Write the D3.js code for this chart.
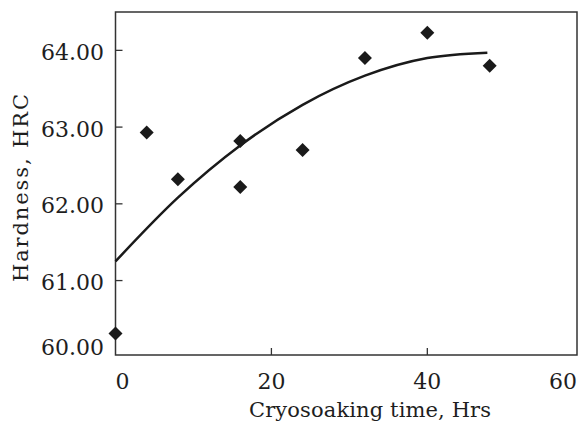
<!DOCTYPE html>
<html>
<head>
<meta charset="utf-8">
<script src="https://cdn.jsdelivr.net/npm/d3@7"></script>
<style>
  body { margin: 0; background: #fff; }
  svg { display: block; }
  text { font-family: "DejaVu Serif", serif; fill: #1e1e1e; }
</style>
</head>
<body>
<script>
// measured hardness values
const soakHours = [0, 4, 8, 16, 16, 24, 32, 40, 48];
const hardness = [60.31, 62.93, 62.32, 62.82, 62.22, 62.70, 63.90, 64.23, 63.80];

// trend line
const trendHours = [0, 8, 16, 24, 32, 40, 47.7];
const trendHardness = [61.25, 62.08, 62.76, 63.29, 63.67, 63.90, 63.97];

const xTicks = [0, 20, 40, 60];
const yTicks = [60, 61, 62, 63, 64];

const width = 580, height = 424;
const plotLeft = 115.5, plotRight = 577, plotTop = 12, plotBottom = 355;

const svg = d3.select('body').append('svg')
    .attr('width', width)
    .attr('height', height);

const x = d3.scaleLinear()
    .domain([0, 59.2])
    .range([plotLeft, plotRight]);

const y = d3.scaleLinear()
    .domain([60.03, 64.5])
    .range([plotBottom, plotTop]);

// frame
svg.append('rect')
    .attr('x', plotLeft).attr('y', plotTop)
    .attr('width', plotRight - plotLeft).attr('height', plotBottom - plotTop)
    .attr('fill', 'none')
    .attr('stroke', '#333')
    .attr('stroke-width', 1.5);

// ticks pointing inward
svg.append('g')
    .selectAll('line')
    .data(xTicks.filter(d => x(d) > plotLeft + 1 && x(d) < plotRight - 1))
    .enter()
    .append('line')
    .attr('x1', d => x(d)).attr('x2', d => x(d))
    .attr('y1', plotBottom).attr('y2', plotBottom - 7)
    .attr('stroke', '#333').attr('stroke-width', 1.3);

svg.append('g')
    .selectAll('line')
    .data(yTicks.filter(d => y(d) > plotTop + 1 && y(d) < plotBottom - 1))
    .enter()
    .append('line')
    .attr('x1', plotLeft).attr('x2', plotLeft + 7)
    .attr('y1', d => y(d)).attr('y2', d => y(d))
    .attr('stroke', '#333').attr('stroke-width', 1.3);

// tick labels, kept inside the frame extent
svg.append('g')
    .selectAll('text')
    .data(xTicks)
    .enter()
    .append('text')
    .attr('y', 381)
    .attr('dominant-baseline', 'central')
    .attr('text-anchor', 'middle')
    .style('font-size', '22px')
    .text(d => d)
    .attr('x', function (d) {
        const w = this.getComputedTextLength();
        return Math.max(plotLeft + w / 2, Math.min(plotRight - w / 2, x(d)));
    });

svg.append('g')
    .selectAll('text')
    .data(yTicks)
    .enter()
    .append('text')
    .attr('x', 104)
    .attr('y', d => Math.min(plotBottom - 8, y(d) + 2))
    .attr('dominant-baseline', 'central')
    .attr('text-anchor', 'end')
    .style('font-size', '22px')
    .text(d => d.toFixed(2));

// axis titles
svg.append('text')
    .attr('x', 370)
    .attr('y', 410)
    .attr('dominant-baseline', 'central')
    .attr('text-anchor', 'middle')
    .style('font-size', '21px')
    .attr('textLength', 242)
    .attr('lengthAdjust', 'spacing')
    .text('Cryosoaking time, Hrs');

svg.append('text')
    .attr('transform', `translate(21, 188) rotate(-90)`)
    .attr('dominant-baseline', 'central')
    .attr('text-anchor', 'middle')
    .style('font-size', '21px')
    .attr('textLength', 188)
    .attr('lengthAdjust', 'spacing')
    .text('Hardness, HRC');

// trend curve
const line = d3.line()
    .x((d, i) => x(trendHours[i]))
    .y(d => y(d))
    .curve(d3.curveMonotoneX);

svg.append('path')
    .datum(trendHardness)
    .attr('d', line)
    .attr('fill', 'none')
    .attr('stroke', '#1a1a1a')
    .attr('stroke-width', 2.5);

// diamonds
svg.append('g')
    .selectAll('path')
    .data(hardness)
    .enter()
    .append('path')
    .attr('d', d3.symbol(d3.symbolSquare, 98))
    .attr('transform', (d, i) => `translate(${x(soakHours[i])}, ${y(d)}) rotate(45)`)
    .attr('fill', '#1a1a1a');
</script>
</body>
</html>
